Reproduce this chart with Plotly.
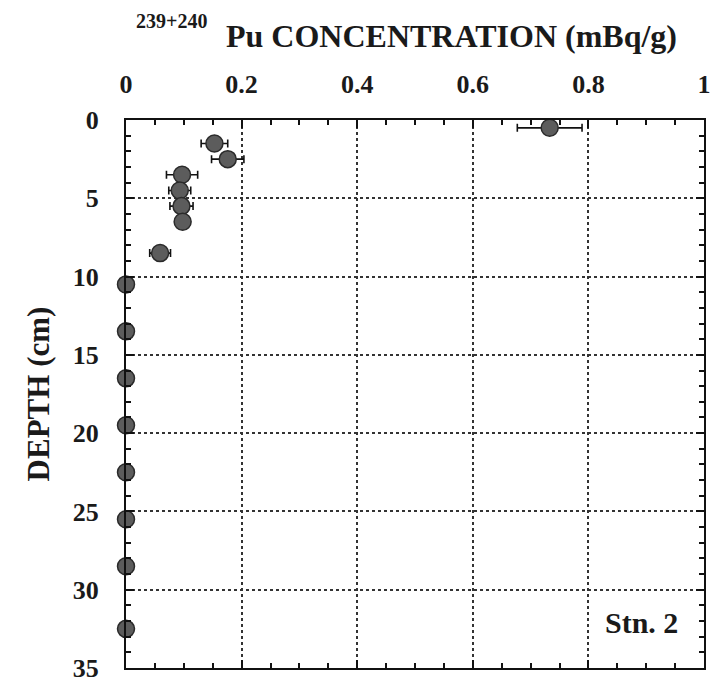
import plotly.graph_objects as go

depth_cm = [0.5, 1.5, 2.5, 3.5, 4.5, 5.5, 6.5, 8.5, 10.5, 13.5, 16.5, 19.5, 22.5, 25.5, 28.5, 32.5]
pu_conc = [0.733, 0.153, 0.176, 0.097, 0.093, 0.096, 0.098, 0.059, 0.0, 0.0, 0.0, 0.0, 0.0, 0.0, 0.0, 0.0]
pu_err = [0.056, 0.023, 0.028, 0.027, 0.019, 0.020, 0.010, 0.018, 0.0, 0.0, 0.0, 0.0, 0.0, 0.0, 0.0, 0.0]
x_ticks = [0, 0.2, 0.4, 0.6, 0.8, 1]
x_tick_labels = ["0", "0.2", "0.4", "0.6", "0.8", "1"]
y_ticks = [0, 5, 10, 15, 20, 25, 30, 35]

FONT = "Liberation Serif"
W, H = 713, 687
PL, PR, PT, PB = 126, 9, 120, 19
PW, PH = W - PL - PR, H - PT - PB


def px2paper(px, py):
    return (px - PL) / PW, (H - PB - py) / PH


fig = go.Figure()
fig.add_trace(go.Scatter(
    x=pu_conc, y=depth_cm, mode="markers",
    error_x=dict(type="data", array=pu_err, visible=True, color="#111111", thickness=1.6, width=4),
    marker=dict(size=17, color="#5c5c5c", line=dict(color="#2a2a2a", width=1.5)),
    cliponaxis=False, showlegend=False,
))

axis_common = dict(
    tickfont=dict(size=26, family=FONT, weight="bold", color="#1a1a1a"),
    showline=True, linecolor="#111", linewidth=2, mirror="allticks",
    ticks="inside", ticklen=8, tickwidth=1.5, tickcolor="#111",
    showgrid=True, gridcolor="#333", griddash="dot", gridwidth=1.5,
    zeroline=False, automargin=False,
)

fig.update_layout(
    width=W, height=H,
    margin=dict(l=PL, r=PR, t=PT, b=PB),
    paper_bgcolor="white", plot_bgcolor="white",
    font=dict(family=FONT, color="#1a1a1a"),
    xaxis=dict(
        side="top", range=[0, 1], tickvals=x_ticks, ticktext=x_tick_labels,
        minor=dict(dtick=0.05, ticks="inside", ticklen=5, tickwidth=1.5, tickcolor="#111", showgrid=False),
        ticklabelstandoff=15,
        **axis_common,
    ),
    yaxis=dict(
        range=[35, 0], tickvals=y_ticks,
        minor=dict(dtick=1, ticks="inside", ticklen=5, tickwidth=1.5, tickcolor="#111", showgrid=False),
        ticklabelstandoff=20,
        title=dict(text="DEPTH (cm)", font=dict(size=31, family=FONT, weight="bold"), standoff=14),
        **axis_common,
    ),
)

sx, sy = px2paper(171, 21)
tx, ty = px2paper(451, 36)
fig.add_annotation(text="239+240", x=sx, y=sy, xref="paper", yref="paper",
                   xanchor="center", yanchor="middle", showarrow=False,
                   font=dict(size=20, family=FONT, weight="bold"))
fig.add_annotation(text="Pu CONCENTRATION (mBq/g)", x=tx, y=ty, xref="paper", yref="paper",
                   xanchor="center", yanchor="middle", showarrow=False,
                   font=dict(size=32, family=FONT, weight="bold"))
fig.add_annotation(text="Stn. 2", x=0.891, y=32.1, xref="x", yref="y",
                   xanchor="center", yanchor="middle", showarrow=False,
                   font=dict(size=30, family=FONT, weight="bold"))

fig.write_html("out.html")
